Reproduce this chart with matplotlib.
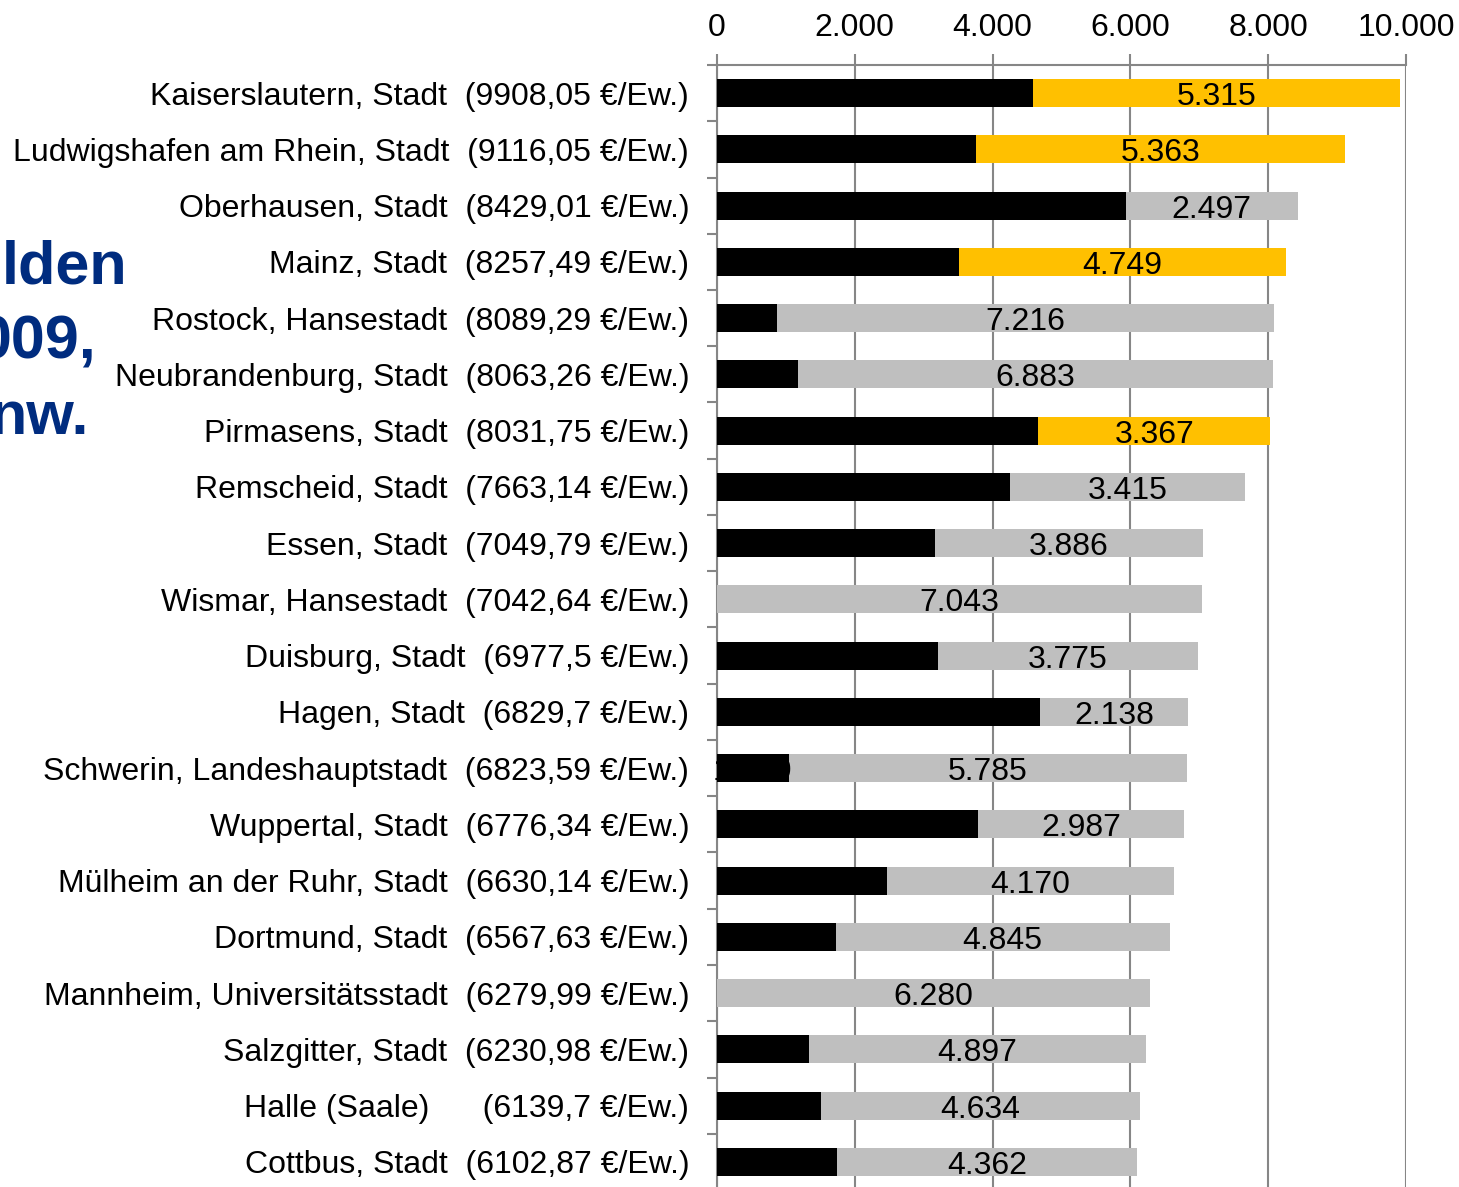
import matplotlib
matplotlib.use("Agg")
import matplotlib.pyplot as plt
import numpy as np

cities = ["Kaiserslautern, Stadt", "Ludwigshafen am Rhein, Stadt", "Oberhausen, Stadt",
          "Mainz, Stadt", "Rostock, Hansestadt", "Neubrandenburg, Stadt", "Pirmasens, Stadt",
          "Remscheid, Stadt", "Essen, Stadt", "Wismar, Hansestadt", "Duisburg, Stadt",
          "Hagen, Stadt", "Schwerin, Landeshauptstadt", "Wuppertal, Stadt",
          "Mülheim an der Ruhr, Stadt", "Dortmund, Stadt", "Mannheim, Universitätsstadt",
          "Salzgitter, Stadt", "Halle (Saale)", "Cottbus, Stadt"]
totals = ["9908,05", "9116,05", "8429,01", "8257,49", "8089,29", "8063,26", "8031,75",
          "7663,14", "7049,79", "7042,64", "6977,5", "6829,7", "6823,59", "6776,34",
          "6630,14", "6567,63", "6279,99", "6230,98", "6139,7", "6102,87"]
second = [5315, 5363, 2497, 4749, 7216, 6883, 3367, 3415, 3886, 7043, 3775, 2138, 5785,
          2987, 4170, 4845, 6280, 4897, 4634, 4362]
highlight = [True, True, False, True, False, False, True, False, False, False, False, False,
             False, False, False, False, False, False, False, False]
gaps = ["  ", "  ", "  ", "  ", "  ", "  ", "  ", "  ", "  ", "  ", "  ", "  ", "  ", "  ",
        "  ", "  ", "  ", "  ", "      ", "  "]
title_parts = ["lden", "009,", "nw."]

plt.rcParams['font.family'] = ['Liberation Sans', 'DejaVu Sans']

tot_vals = np.array([float(t.replace(",", ".")) for t in totals])
second = np.array(second, dtype=float)
first = np.maximum(tot_vals - second, 0)

def fmt(v):
    return f"{int(round(v)):,}".replace(",", ".")

W, H = 1459, 1187
fig = plt.figure(figsize=(W / 100, H / 100), dpi=100)
ax = fig.add_axes([717 / W, 1 - 1190 / H, (1406 - 717) / W, 1125 / H])

y = np.arange(len(cities))
colors2 = ["#FFC000" if h else "#BFBFBF" for h in highlight]
ax.barh(y, first, height=0.5, color="black", zorder=3)
ax.barh(y, second, left=first, height=0.5, color=colors2, zorder=3)

fs = 23
for i in range(len(cities)):
    if first[i] > 0:
        ax.text(first[i] / 2, y[i] + 0.07, fmt(first[i]), ha="center", va="center",
                fontsize=fs, color="black", zorder=4)
    ax.text(first[i] + second[i] / 2, y[i] + 0.07, fmt(second[i]), ha="center", va="center",
            fontsize=fs, color="black", zorder=4)

ax.set_xlim(0, 10000)
ax.set_ylim(len(cities) - 0.5, -0.5)
ax.xaxis.tick_top()
ticks = [0, 2000, 4000, 6000, 8000, 10000]
ax.set_xticks(ticks)
ax.set_xticklabels([fmt(t) for t in ticks], fontsize=fs)
ax.tick_params(axis="x", length=8, width=1.5, color="#868686", pad=8)
ax.grid(axis="x", color="#868686", linewidth=1.5, zorder=0)

ax.set_yticks(y)
ax.set_yticklabels([f"{c}{g}({t} €/Ew.)" for c, g, t in zip(cities, gaps, totals)], fontsize=fs)
ax.tick_params(axis="y", which="major", length=0, pad=20)
ax.set_yticks(np.arange(-0.5, len(cities), 1.0), minor=True)
ax.tick_params(axis="y", which="minor", length=7, width=1.5, color="#868686")

for s in ["right", "bottom"]:
    ax.spines[s].set_visible(False)
for s in ["top", "left"]:
    ax.spines[s].set_color("#868686")
    ax.spines[s].set_linewidth(1.5)

for txt, xr, yc in zip(title_parts, [127, 96, 89], [268, 343, 418]):
    fig.text(xr / W, 1 - yc / H, txt, ha="right", va="center", fontsize=44,
             fontweight="bold", color="#002C7F")

fig.savefig("out.png", dpi=100)
